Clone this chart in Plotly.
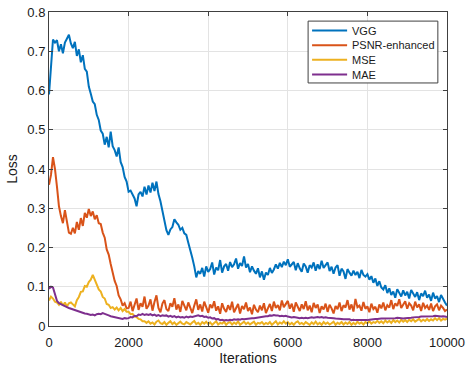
import plotly.graph_objects as go

iterations = list(range(0, 10001, 50))

vgg = [
    0.59, 0.65, 0.73, 0.722, 0.728, 0.70, 0.718, 0.695, 0.722, 0.732,
    0.742, 0.72, 0.708, 0.724, 0.688, 0.705, 0.672, 0.69, 0.655, 0.648,
    0.61, 0.592, 0.572, 0.565, 0.538, 0.525, 0.498, 0.49, 0.462, 0.482,
    0.455, 0.495, 0.458, 0.448, 0.432, 0.455, 0.418, 0.405, 0.38, 0.368,
    0.342, 0.345, 0.336, 0.325, 0.305, 0.335, 0.342, 0.33, 0.355, 0.335,
    0.358, 0.34, 0.365, 0.344, 0.368, 0.336, 0.318, 0.29, 0.272, 0.244,
    0.232, 0.246, 0.252, 0.272, 0.264, 0.258, 0.245, 0.25, 0.236, 0.232,
    0.212, 0.196, 0.174, 0.152, 0.124, 0.14, 0.133, 0.148, 0.126, 0.152,
    0.138, 0.145, 0.162, 0.131, 0.149, 0.142, 0.168, 0.136, 0.152, 0.158,
    0.141, 0.163, 0.15, 0.157, 0.172, 0.146, 0.16, 0.153, 0.177, 0.149,
    0.158, 0.137, 0.152, 0.141, 0.133, 0.147, 0.124, 0.139, 0.118, 0.136,
    0.13, 0.148, 0.135, 0.144, 0.157, 0.146, 0.161, 0.15, 0.164, 0.155,
    0.17, 0.151, 0.158, 0.163, 0.142, 0.16, 0.147, 0.138, 0.159, 0.152,
    0.136, 0.155, 0.149, 0.162, 0.141, 0.157, 0.145, 0.166, 0.148, 0.154,
    0.162, 0.14, 0.151, 0.133, 0.149, 0.155, 0.128, 0.146, 0.139, 0.12,
    0.145, 0.136, 0.128, 0.141, 0.13, 0.138, 0.122, 0.143, 0.13, 0.126,
    0.132, 0.118, 0.127, 0.11, 0.121, 0.102, 0.114, 0.098, 0.093, 0.104,
    0.084, 0.096, 0.079, 0.088, 0.072, 0.094, 0.083, 0.075, 0.091, 0.078,
    0.087, 0.07, 0.092, 0.081, 0.074, 0.086, 0.066, 0.083, 0.076, 0.09,
    0.072, 0.08, 0.064, 0.085, 0.07, 0.076, 0.061, 0.079, 0.068, 0.06,
    0.052,
]

psnr = [
    0.36, 0.385, 0.43, 0.40, 0.355, 0.305, 0.28, 0.262, 0.295, 0.268,
    0.238, 0.235, 0.25, 0.236, 0.265, 0.245, 0.275, 0.255, 0.288, 0.276,
    0.298, 0.28, 0.292, 0.272, 0.282, 0.262, 0.26, 0.238, 0.225, 0.195,
    0.182, 0.158, 0.132, 0.115, 0.102, 0.078, 0.068, 0.052, 0.058, 0.045,
    0.046, 0.062, 0.038, 0.055, 0.07, 0.041, 0.058, 0.049, 0.075, 0.044,
    0.052, 0.068, 0.039, 0.061, 0.078, 0.046, 0.035, 0.057, 0.066, 0.043,
    0.038, 0.058, 0.049, 0.071, 0.042, 0.055, 0.036, 0.064, 0.051, 0.04,
    0.06, 0.045, 0.033, 0.052, 0.068, 0.041, 0.055, 0.037, 0.062, 0.048,
    0.034, 0.055, 0.046, 0.063, 0.039, 0.05, 0.031, 0.058, 0.044, 0.036,
    0.053, 0.041, 0.062, 0.035, 0.048, 0.056, 0.032, 0.051, 0.043, 0.06,
    0.038, 0.047, 0.03, 0.054, 0.042, 0.035, 0.052, 0.04, 0.058, 0.033,
    0.045, 0.056, 0.038, 0.062, 0.046, 0.053, 0.04, 0.065, 0.048, 0.055,
    0.064, 0.044, 0.057, 0.036, 0.06, 0.049, 0.038, 0.055, 0.043, 0.063,
    0.04, 0.052, 0.035, 0.059, 0.046, 0.055, 0.033, 0.05, 0.042, 0.057,
    0.036, 0.054, 0.045, 0.032, 0.051, 0.043, 0.06, 0.038, 0.053, 0.047,
    0.066, 0.042, 0.055, 0.037, 0.069, 0.048, 0.052, 0.039, 0.061, 0.044,
    0.05, 0.035, 0.057, 0.043, 0.049, 0.034, 0.055, 0.045, 0.06, 0.04,
    0.053, 0.047, 0.066, 0.043, 0.058, 0.051, 0.068, 0.046, 0.055, 0.063,
    0.044, 0.058, 0.052, 0.04, 0.062, 0.047, 0.055, 0.038, 0.059, 0.046,
    0.052, 0.041, 0.057, 0.038, 0.05, 0.055, 0.04, 0.052, 0.046, 0.038,
    0.042,
]

mse = [
    0.065, 0.075, 0.07, 0.062, 0.06, 0.054, 0.062, 0.052, 0.06, 0.05,
    0.058, 0.06, 0.055, 0.05, 0.066, 0.074, 0.087, 0.088, 0.102, 0.1,
    0.112, 0.118, 0.13, 0.118, 0.108, 0.093, 0.088, 0.074, 0.07, 0.056,
    0.054, 0.046, 0.048, 0.042, 0.047, 0.04, 0.046, 0.038, 0.043, 0.036,
    0.036, 0.03, 0.031, 0.024, 0.023, 0.018, 0.017, 0.012, 0.012, 0.008,
    0.012, 0.006, 0.009, 0.004, 0.011, 0.014, 0.007, 0.005, 0.01, 0.003,
    0.008, 0.012, 0.005, 0.009, 0.003, 0.007, 0.011, 0.006, 0.004, 0.01,
    0.007, 0.004, 0.009, 0.013, 0.005, 0.008, 0.003, 0.01, 0.006, 0.011,
    0.005, 0.009, 0.003, 0.007, 0.012, 0.004, 0.008, 0.006, 0.011, 0.003,
    0.008, 0.01, 0.004, 0.009, 0.005, 0.012, 0.003, 0.007, 0.011, 0.005,
    0.009, 0.004, 0.007, 0.011, 0.003, 0.008, 0.006, 0.01, 0.004, 0.008,
    0.005, 0.01, 0.003, 0.008, 0.012, 0.004, 0.009, 0.006, 0.012, 0.006,
    0.01, 0.004, 0.008, 0.003, 0.009, 0.012, 0.005, 0.008, 0.004, 0.01,
    0.006, 0.003, 0.009, 0.005, 0.011, 0.004, 0.008, 0.003, 0.01, 0.005,
    0.009, 0.004, 0.007, 0.011, 0.003, 0.008, 0.005, 0.01, 0.004, 0.009,
    0.005, 0.01, 0.003, 0.008, 0.004, 0.011, 0.006, 0.009, 0.004, 0.01,
    0.007, 0.012, 0.006, 0.01, 0.008, 0.013, 0.008, 0.012, 0.007, 0.014,
    0.009, 0.013, 0.008, 0.015, 0.01, 0.014, 0.009, 0.016, 0.011, 0.015,
    0.01, 0.016, 0.012, 0.017, 0.011, 0.015, 0.018, 0.012, 0.016, 0.013,
    0.018, 0.013, 0.017, 0.014, 0.02, 0.015, 0.02, 0.014, 0.018, 0.016,
    0.019,
]

mae = [
    0.095, 0.1, 0.098, 0.08, 0.064, 0.058, 0.056, 0.052, 0.05, 0.048,
    0.046, 0.044, 0.042, 0.04, 0.04, 0.038, 0.035, 0.034, 0.032, 0.031,
    0.03, 0.028, 0.029, 0.027, 0.03, 0.031, 0.03, 0.033, 0.031, 0.028,
    0.027, 0.025, 0.024, 0.023, 0.021, 0.02, 0.019, 0.018, 0.02, 0.019,
    0.02, 0.023, 0.022, 0.026, 0.025, 0.029, 0.028, 0.031, 0.028, 0.03,
    0.028, 0.03, 0.027, 0.029, 0.026, 0.028, 0.025, 0.027, 0.026, 0.027,
    0.024, 0.026, 0.023, 0.025, 0.022, 0.024, 0.022, 0.023, 0.021, 0.024,
    0.022, 0.024, 0.023, 0.025, 0.026, 0.027, 0.025, 0.026, 0.023, 0.024,
    0.021, 0.022, 0.019, 0.02, 0.017, 0.018, 0.015, 0.016, 0.014, 0.015,
    0.014, 0.016, 0.015, 0.017, 0.016, 0.017, 0.016, 0.018, 0.017, 0.018,
    0.018, 0.019, 0.02, 0.02, 0.021, 0.022, 0.022, 0.023, 0.024, 0.025,
    0.025, 0.027, 0.026, 0.028, 0.027, 0.027, 0.025, 0.026, 0.025, 0.026,
    0.024, 0.023, 0.022, 0.023, 0.021, 0.021, 0.02, 0.021, 0.02, 0.021,
    0.02, 0.021, 0.022, 0.021, 0.022, 0.023, 0.022, 0.023, 0.021, 0.022,
    0.021, 0.021, 0.02, 0.02, 0.019, 0.019, 0.018, 0.018, 0.017, 0.017,
    0.016, 0.017, 0.015, 0.016, 0.015, 0.015, 0.014, 0.015, 0.014, 0.015,
    0.015, 0.016, 0.017, 0.017, 0.018, 0.018, 0.019, 0.019, 0.019, 0.019,
    0.019, 0.02, 0.019, 0.02, 0.02, 0.021, 0.02, 0.02, 0.019, 0.02,
    0.02, 0.021, 0.021, 0.022, 0.022, 0.023, 0.023, 0.024, 0.024, 0.025,
    0.025, 0.025, 0.024, 0.025, 0.026, 0.026, 0.025, 0.024, 0.025, 0.024,
    0.023,
]

series_names = ["VGG", "PSNR-enhanced", "MSE", "MAE"]
series_values = [vgg, psnr, mse, mae]
series_colors = ["#0072BD", "#D95319", "#EDB120", "#7E2F8E"]

x_ticks = [0, 2000, 4000, 6000, 8000, 10000]
x_tick_labels = ["0", "2000", "4000", "6000", "8000", "10000"]
y_ticks = [0, 0.1, 0.2, 0.3, 0.4, 0.5, 0.6, 0.7, 0.8]
y_tick_labels = ["0", "0.1", "0.2", "0.3", "0.4", "0.5", "0.6", "0.7", "0.8"]

fig = go.Figure()
for name, vals, col in zip(series_names, series_values, series_colors):
    fig.add_trace(go.Scatter(x=iterations, y=vals, mode="lines", name=name,
                             line=dict(color=col, width=2), showlegend=False))

# Compact MATLAB-style legend box (paper coordinates, layout only)
box_x0, box_x1, box_y0, box_y1 = 0.651, 0.977, 0.774, 0.971
row_top, row_step = 0.941, 0.0467
line_x0, line_x1, text_x = 0.661, 0.749, 0.757
fig.add_shape(type="rect", xref="paper", yref="paper",
              x0=box_x0, x1=box_x1, y0=box_y0, y1=box_y1,
              fillcolor="white", line=dict(color="#404040", width=1), layer="above")
for i, (name, col) in enumerate(zip(series_names, series_colors)):
    yy = row_top - i * row_step
    fig.add_shape(type="line", xref="paper", yref="paper",
                  x0=line_x0, x1=line_x1, y0=yy, y1=yy,
                  line=dict(color=col, width=2), layer="above")
    fig.add_annotation(xref="paper", yref="paper", x=text_x, y=yy,
                       text=name, showarrow=False, xanchor="left", yanchor="middle",
                       font=dict(family="Liberation Sans, Arial", size=11, color="#1a1a1a"))

axis_common = dict(
    showline=True, linecolor="#404040", linewidth=1, mirror="ticks",
    ticks="inside", ticklen=4, tickcolor="#404040",
    showgrid=True, gridcolor="#e3e3e3", gridwidth=1, zeroline=False,
    automargin=False,
    tickfont=dict(family="Liberation Sans, Arial", size=13, color="#1a1a1a"),
)

fig.update_layout(
    width=468, height=366,
    margin=dict(l=49, r=21, t=12, b=40),
    paper_bgcolor="white", plot_bgcolor="white",
    font=dict(family="Liberation Sans, Arial", size=13, color="#1a1a1a"),
    xaxis=dict(range=[0, 10000], tickvals=x_ticks, ticktext=x_tick_labels,
               ticklabelstandoff=4,
               title=dict(text="Iterations", font=dict(size=14), standoff=2),
               **axis_common),
    yaxis=dict(range=[0, 0.8], tickvals=y_ticks, ticktext=y_tick_labels,
               title=dict(text="Loss", font=dict(size=14), standoff=6),
               **axis_common),
    showlegend=False,
)

fig.write_html("out.html")
